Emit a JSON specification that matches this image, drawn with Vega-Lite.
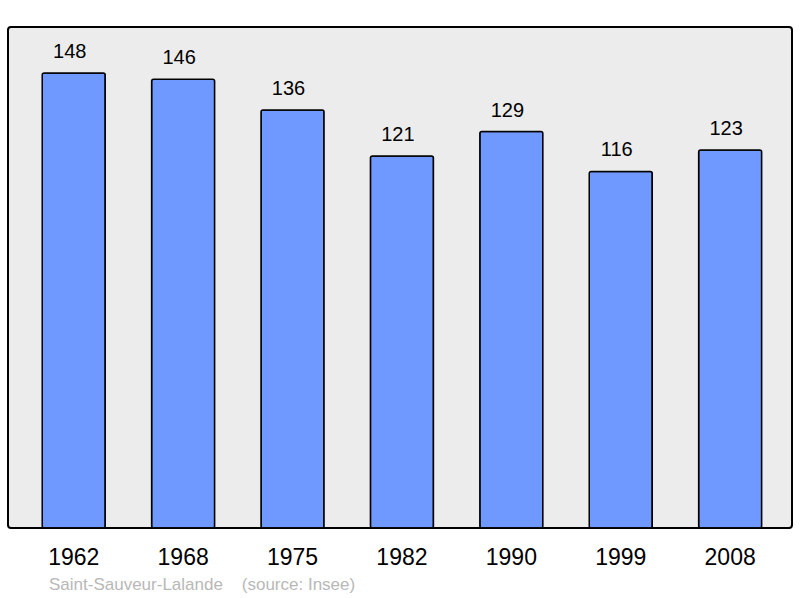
{
  "$schema": "https://vega.github.io/schema/vega-lite/v6.json",
  "autosize": "none",
  "width": 784,
  "height": 501,
  "padding": {"left": 8, "top": 27, "right": 8, "bottom": 70},
  "background": "white",
  "config": {
    "font": "Liberation Sans",
    "view": {"fill": "#ececec", "stroke": "black", "strokeWidth": 2, "cornerRadius": 3}
  },
  "title": {
    "text": "Saint-Sauveur-Lalande\u00a0\u00a0\u00a0\u00a0(source: Insee)",
    "orient": "bottom",
    "anchor": "start",
    "frame": "group",
    "dx": 41,
    "offset": 8,
    "fontSize": 17,
    "fontWeight": "normal",
    "color": "#b8b8b8"
  },
  "data": {
    "values": [
      {"year": "1962", "population": 148},
      {"year": "1968", "population": 146},
      {"year": "1975", "population": 136},
      {"year": "1982", "population": 121},
      {"year": "1990", "population": 129},
      {"year": "1999", "population": 116},
      {"year": "2008", "population": 123}
    ]
  },
  "encoding": {
    "x": {
      "field": "year",
      "type": "ordinal",
      "scale": {"paddingInner": 0.424, "paddingOuter": 0.295, "align": 0.53},
      "axis": {
        "title": null,
        "labelAngle": 0,
        "labelFontSize": 23,
        "labelColor": "black",
        "labelPadding": 18,
        "ticks": false,
        "domain": false
      }
    },
    "y": {
      "field": "population",
      "type": "quantitative",
      "scale": {"domain": [0, 163], "nice": false},
      "axis": null
    }
  },
  "layer": [
    {
      "mark": {"type": "bar", "fill": "#7099ff", "stroke": "black", "strokeWidth": 1.5, "cornerRadius": 2}
    },
    {
      "mark": {"type": "text", "baseline": "alphabetic", "dx": -4, "dy": -15, "fontSize": 20, "color": "black"},
      "encoding": {"text": {"field": "population", "type": "quantitative"}}
    }
  ]
}
